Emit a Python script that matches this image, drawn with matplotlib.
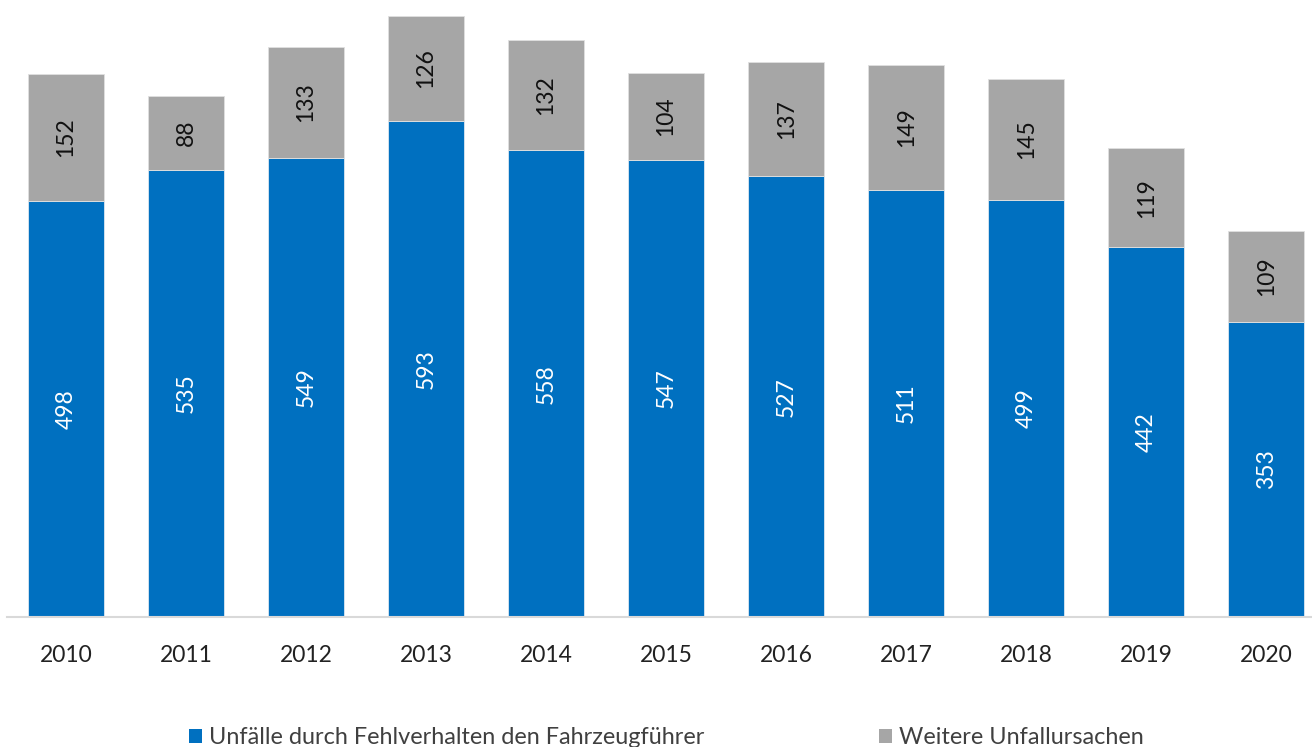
import matplotlib
matplotlib.use("Agg")
import matplotlib.pyplot as plt
from matplotlib.patches import Patch

years = ["2010", "2011", "2012", "2013", "2014", "2015", "2016", "2017", "2018", "2019", "2020"]
driver_fault = [498, 535, 549, 593, 558, 547, 527, 511, 499, 442, 353]
other_causes = [152, 88, 133, 126, 132, 104, 137, 149, 145, 119, 109]
series_names = ["Unfälle durch Fehlverhalten den Fahrzeugführer", "Weitere Unfallursachen"]

BLUE = "#0070C0"
GRAY = "#A6A6A6"
FONT = ["Lato", "DejaVu Sans"]

plt.rcParams['font.family'] = FONT

fig = plt.figure(figsize=(13.12, 7.47), dpi=100)
ax = fig.add_axes([7/1312, 130/747, 1 - 7/1312, 617/747])

x = list(range(len(years)))
w = 0.633
ax.bar(x, driver_fault, width=w, color=BLUE, edgecolor="#DDE8F0", linewidth=0.6, zorder=2)
ax.bar(x, other_causes, width=w, bottom=driver_fault, color=GRAY, edgecolor="#E0E0E0", linewidth=0.6, zorder=2)

for i in x:
    ax.text(i, driver_fault[i] / 2, str(driver_fault[i]), rotation=90, ha="center", va="center",
            color="white", fontsize=16.5, fontweight="normal")
    ax.text(i, driver_fault[i] + other_causes[i] / 2, str(other_causes[i]), rotation=90, ha="center",
            va="center", color="#111111", fontsize=16.5, fontweight="normal")

ax.set_xlim(-0.49, 10.38)
ax.set_ylim(0, 738)
ax.set_xticks(x)
ax.set_xticklabels(years, fontsize=16.5, fontweight="normal", color="#222222")
ax.tick_params(axis="x", length=0, pad=20)
ax.set_yticks([])
for s in ["top", "right", "left"]:
    ax.spines[s].set_visible(False)
ax.spines["bottom"].set_color("#D9D9D9")
ax.spines["bottom"].set_linewidth(1.5)
ax.spines["bottom"].set_zorder(3)

handles = [Patch(facecolor=BLUE, edgecolor="none"), Patch(facecolor=GRAY, edgecolor="none")]
fig.legend(handles, series_names, loc="lower left", bbox_to_anchor=(168/1312, -22/747), ncol=2,
           frameon=False, handlelength=0.55, handleheight=0.55, handletextpad=0.3,
           columnspacing=7.45, prop={"family": FONT, "weight": "normal", "size": 16.9},
           labelcolor="#404040")

fig.savefig("out.png", dpi=100)
